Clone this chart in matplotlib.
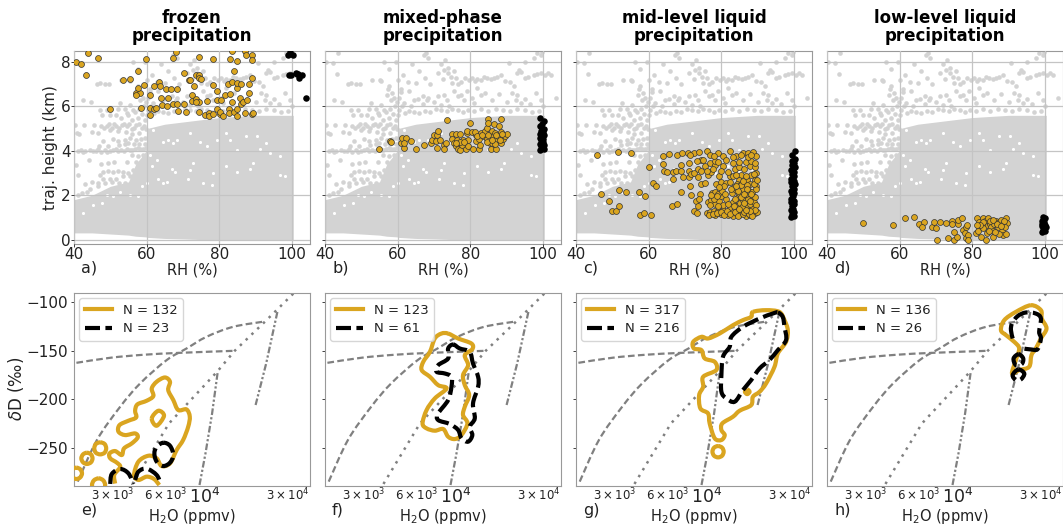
import numpy as np
import matplotlib
matplotlib.use("Agg")
import matplotlib.pyplot as plt
from matplotlib.path import Path
from matplotlib.patches import PathPatch
from matplotlib.lines import Line2D

titles = ["frozen\nprecipitation", "mixed-phase\nprecipitation", "mid-level liquid\nprecipitation", "low-level liquid\nprecipitation"]
top_letters = ["a)", "b)", "c)", "d)"]
bottom_letters = ["e)", "f)", "g)", "h)"]
gold_n = ["N = 132", "N = 123", "N = 317", "N = 136"]
black_n = ["N = 23", "N = 61", "N = 216", "N = 26"]

# grey background, envelope of the dense cloud
cloud_rh = [40, 45, 50, 55, 57, 59.9, 60, 65, 70, 75, 80, 85, 90, 95, 100.4]
cloud_top = [1.8, 2.0, 2.4, 2.6, 3.4, 4.0, 5.0, 5.2, 5.3, 5.4, 5.5, 5.55, 5.6, 5.6, 5.6]
cloud_bottom = [0.3, 0.3, 0.25, 0.2, 0.15, 0.12, 0.1, 0.05, 0.03, 0, 0, 0, 0, 0, 0]

# single grey dots outside the cloud
sparse_rh = [43.7, 40.3, 42.1, 43.2, 46.2, 47.2, 48.5, 49.6, 52.9, 55.1, 55.4, 57.7, 57.4, 57.2, 58.3, 57.7, 60, 62.8, 65, 60.9, 66.9, 68.3, 67.3, 67.8, 72.8, 73.8, 74.7, 72.4, 75.1, 76.5, 79.7, 82, 83.8, 85.7, 87.5, 90.7, 93, 93.5, 94, 97.6, 99.4, 101.3, 102.2, 103.6, 98.5, 99.4, 93, 92.6, 94, 81.1, 82.9, 71, 72.8, 76.5, 78.3, 74.2, 63.7, 65.5, 61.8, 60.5, 60,
             47.2, 47.6, 49, 50, 51.7, 52.2, 52.7, 54.5, 55.9, 56.8, 49, 50.4, 51.7, 53.1, 54.5, 55.9, 57.2, 58.6, 40.3, 42.8, 45.5, 40.7, 41.5, 44.9, 46.7, 50.8, 54,
             43, 44.5, 46, 47.5, 48.5, 50, 51.5, 53, 54.5, 56, 57.5, 59, 59.5, 58, 56.5, 55,
             40.5, 47.2, 48, 49.4, 50.8, 52.2, 53.6, 55, 56.3, 57.7, 48.1, 50, 51.7, 53.6, 55.4, 46.7, 43.5, 44.4, 42.1, 41.2,
             41, 41.8, 42.4, 45.2, 46.7, 49, 50.7, 52.2, 53.7, 55.3, 56.8, 58.2, 59.8, 52.5, 54, 49.5, 47, 57, 58.5, 59.5, 55.5, 52, 48, 59, 57.5, 56, 58.5, 57, 59.5, 58, 59.3, 54.5, 51, 47.5, 49.5, 44, 41, 43, 45, 46.5, 48.5, 50.5, 52.5, 54, 56, 57.5, 59,
             47.5, 48.3, 49.7, 51, 52.4, 53.8, 55.2, 56.6, 57.9, 59.3, 50, 52, 54.2, 56, 58, 59.7,
             53, 54, 55, 55.5, 56.3, 57.5, 58, 58.8, 59.3, 59.6, 58.5, 59, 59.7, 60.5, 61.2, 62, 63, 64.5, 66, 67.5, 69, 70.5, 72, 73.5, 75, 76.5, 78, 79.5, 81, 83, 85, 87, 89, 91, 93, 95, 97, 99, 100, 61, 63, 64.5, 67, 68, 70, 72, 73.5, 75.5, 77.5, 79, 80.5, 82, 84, 86, 88, 90, 91.5, 95, 96.5, 98, 99.5,
             71, 72, 73, 74, 75.5, 76, 77.5, 78.5, 80.5, 81.2, 83, 84.7, 86.5, 88.5, 89.7, 91, 92, 95, 96, 98.5, 100.5, 69, 67.5, 66, 61.5, 59.5, 64, 68.5, 95, 97.5, 99.8, 56.3, 44.8, 42.5]
sparse_h = [8.4, 8, 7.95, 7.45, 7, 7.05, 7, 7, 7.2, 7.2, 7.15, 7.7, 6.8, 6.5, 6.3, 6.9, 7.2, 7.1, 7.05, 6.65, 6.45, 6.4, 8.3, 8.4, 7.65, 7.5, 7.35, 7.25, 7.05, 7, 7.2, 7.25, 7.35, 7.25, 7.35, 7.95, 7.5, 7.65, 7.55, 7.4, 7.5, 7.5, 7.4, 6.4, 8.4, 8.3, 6.5, 6.3, 6.15, 6.15, 6.5, 6.45, 6.5, 6.45, 6.3, 6, 6, 6.35, 6.15, 5.85, 5.6,
            5.85, 5.6, 5.85, 5.6, 5.6, 5.9, 6.15, 5.7, 5.4, 5.75, 5.1, 5.05, 5.1, 5.15, 5.1, 5, 5.15, 5.05, 5.15, 5.15, 5.15, 4.8, 4.75, 4.85, 4.8, 4.55, 4.5,
            4, 4.05, 4, 3.95, 4.05, 4, 4.1, 4.05, 4.1, 4.05, 4.15, 4.1, 4.3, 4.3, 4.3, 4.35,
            3.35, 2.9, 3.05, 3.1, 3.05, 3.1, 3.05, 3, 3.15, 3.05, 2.75, 2.75, 2.75, 2.85, 2.85, 2.4, 2.15, 2.3, 2.1, 2,
            4, 4.05, 3.95, 4, 4.1, 3.95, 4.05, 4, 4, 4.05, 4.1, 4.1, 4.15, 4.25, 4.3, 4.2, 4.2, 4.5, 4.55, 4.6, 4.6, 4.45, 4.45, 3.8, 3.75, 3.8, 3.5, 3.5, 3.3, 3.2, 2.95, 3.5, 3.5, 3.4, 3.45, 3.6, 2.9, 2.5, 2.6, 2.55, 2.55, 2.6, 2.55, 2.55, 2.6, 2.6, 2.65,
            5.1, 5.05, 5.2, 5.2, 5.05, 5.2, 5.2, 5.05, 5.2, 5.1, 4.95, 4.9, 4.85, 4.75, 4.8, 5,
            5.5, 5.9, 5.6, 6.05, 5.85, 5.5, 5.9, 5.65, 6, 5.4, 6.6, 6.4, 6.2, 6.4, 6, 5.7, 5.8, 5.75, 5.7, 5.8, 5.75, 5.9, 5.85, 5.8, 5.9, 5.85, 5.75, 5.85, 5.8, 5.9, 5.8, 5.9, 5.85, 5.8, 5.9, 5.85, 5.75, 5.8, 6, 6.8, 6.7, 6.3, 6.1, 6.3, 6.2, 6.05, 6.3, 6.7, 6.5, 6.7, 6.4, 6.85, 6.6, 6.3, 6.55, 6.2, 6.6, 6.35, 6.1, 6.6, 6.3,
            7.5, 7.9, 8.1, 7.75, 7.6, 7.3, 7.1, 7.3, 7.3, 7.15, 7.2, 7.3, 7.3, 7.4, 7.15, 7.1, 6.9, 7.3, 7.35, 7.45, 7.4, 7, 7.3, 7.6, 7.4, 8, 7.9, 8.2, 8, 8.2, 8.45, 8, 6.2, 6.3]

# white gaps inside the cloud
gap_rh = [68.3, 67.3, 66, 64.6, 60.9, 62.8, 61.4, 63.2, 64.6, 65.5, 66.9, 67.8, 71.9, 72.8, 71.5, 75.6, 77.9, 78.3, 82, 84.8, 88.4, 89.4, 96.7, 93, 91.2, 93.9, 96.7, 98.1, 82.9, 79.3, 74.7, 76.5, 84.8, 87.5, 90.3, 82, 71.9, 61.8, 49, 50.8, 52.7, 55.4, 57.7, 58.6, 60, 42.6, 45.3, 47.6]
gap_h = [4.5, 4.35, 4.5, 4.4, 3.8, 3.6, 3.3, 2.75, 2.55, 2.6, 3.2, 3.05, 3.15, 3.45, 2.75, 2.55, 2.45, 3, 3.3, 3.05, 3.2, 3.45, 3.75, 4.35, 4.1, 3.9, 2.9, 2.85, 4.5, 4.5, 4.4, 4.2, 4.05, 4.65, 4.65, 4.8, 4.8, 4.95, 2.0, 1.95, 2.15, 2, 1.95, 2.4, 2.55, 1.2, 1.55, 1.65]

a_rh = [40.6, 42, 43.9, 43.3, 46.6, 50, 53.5, 55.4, 57.6, 59.8, 59.4, 57, 58.2, 57, 57.6, 58.5, 61, 60.8, 61, 61.9, 62.7, 62.1, 63.5, 63.7, 64, 64.1, 65.5, 65.3, 66, 66.7, 67.2, 68, 67.2, 68.3, 68.5, 68.6, 70.3, 70.3, 70.9, 71.7, 72, 73, 72.6, 72.6, 73.6, 73.6, 74.4, 74.4, 75, 74.4, 74.4, 74.3, 73.6, 76.2, 76.7, 77.2, 77.2, 78.3, 78.2, 78.3, 79.5, 79.5, 79.5, 80.1, 80.6, 80.2, 81.1, 81.5, 82.5, 83.4, 82.9, 82.9, 82.8, 82.8, 83.4, 83.4, 84.1, 84.1, 84.9, 85, 85, 86.1, 85.8, 85, 85, 85.9, 86.6, 87, 87.6, 87.2, 87.5, 88.2, 88.2, 88.9, 88.9, 88.9, 88.9, 89.4]
a_h = [8, 7.9, 8.4, 7.4, 8.2, 5.9, 7.2, 7.25, 7.6, 8.15, 6.95, 6.6, 6.6, 6.5, 6.85, 5.95, 6.5, 5.6, 5.95, 5.9, 5.95, 6.9, 7.1, 6.9, 6.4, 6.05, 6, 6.8, 6.4, 6.8, 8.2, 8.45, 6.1, 6.8, 6.1, 5.8, 7.5, 6.1, 5.75, 7.2, 7.2, 6.9, 6.5, 6.25, 6.35, 7.4, 7.4, 7.3, 7.25, 6.2, 5.75, 8.25, 6.2, 5.6, 6.25, 5.7, 5.55, 5.65, 8.15, 6.95, 5.9, 6.7, 6.3, 5.65, 6.3, 5.75, 5.55, 6.5, 7, 7.1, 8.15, 6.55, 5.9, 5.7, 6.2, 8.5, 7.6, 5.75, 8.05, 6.85, 7.05, 7, 6.4, 5.9, 5.55, 6.1, 6.2, 5.7, 6.3, 8.5, 8.3, 7, 6.6, 8.3, 8.1, 7.3, 5.65, 5.7]
a_black_rh = [99, 100.2, 99.5, 99.1, 99.7, 101.1, 101.7, 102.7, 102, 101.3, 103.9]
a_black_h = [8.3, 8.3, 8.45, 7.4, 7.4, 7.5, 7.45, 7.4, 7.3, 7.45, 6.4]

b_rh = [55, 57.8, 58.3, 60.9, 61.2, 62.3, 61.8, 61.8, 63.8, 65.2, 67.4, 69.2, 69.4, 69.9, 70.9, 71.1, 70.7, 71.6, 70.9, 72.7, 73.2, 72.9, 73.5, 74.9, 75.1, 75.6, 76.2, 76.2, 76.7, 77.2, 77.6, 77.3, 78.1, 78.8, 79.5, 79, 79.5, 80, 79, 80.4, 80.8, 81.5, 81.7, 82.5, 82.8, 82.9, 82.5, 83.6, 84, 84.5, 84.8, 84.8, 84.5, 85.4, 85.6, 85.9, 86.3, 86.5, 86.9, 86.9, 87.2, 87.6, 87.8, 88.4, 88.4, 88.6, 89, 89.5, 90, 84.9, 86.1, 86.8, 88.2, 76.4, 77.2, 78.3, 81.4, 82, 76.2, 84.5, 87.2, 88.7, 85.9, 83.3]
b_h = [4.1, 4.45, 4.4, 4.35, 4.6, 4.6, 4.15, 4.35, 4.45, 4.1, 4.25, 4.35, 4.5, 4.7, 4.7, 4.9, 4.45, 4.5, 4.15, 4.25, 4.35, 4.1, 5.4, 4.75, 4.55, 4.35, 4.75, 4.2, 4.1, 4.05, 4.25, 4.75, 4.5, 4.1, 4.2, 4.8, 4.5, 5.25, 4.9, 4.85, 4.1, 4.7, 4.45, 4.1, 4.25, 4.8, 4.55, 4.65, 4.9, 5.05, 5.45, 5.25, 4.55, 4.35, 4.1, 4.9, 4.65, 5.2, 4.8, 4.5, 4.1, 4.65, 5.1, 5.45, 4.85, 4.35, 4.55, 4.65, 4.75, 4.7, 4.35, 4.3, 4.5, 4.5, 4.4, 4.4, 4.85, 4.65, 4.35, 4.4, 4.7, 4.75, 4.5, 4.7]
b_black_rh = [99.2, 100.2, 99.4, 100.4, 99.3, 100, 99.5, 100.1, 99.2, 100.3, 99.1, 100, 99.6, 100.4, 99.2, 99.9, 100.3, 99.3]
b_black_h = [4.05, 4.1, 4.2, 4.25, 4.3, 4.4, 4.5, 4.55, 4.6, 4.7, 4.75, 4.85, 4.9, 5, 5.1, 5.2, 5.35, 5.5]

c_rh = [45.7, 51.7, 55.1, 60.1, 64, 65.7, 67.9, 69.1, 70.8, 72.6, 73.9, 76.1, 76.8, 79.1, 80.6, 82.4, 84.1, 86, 87.3, 88.7, 89.6,
        64, 64.2, 65.1, 66.6, 66.7, 67.6, 69, 69, 69.4, 71.1, 71.1, 71.1, 71.3, 71.8, 72.4, 73.6, 73.6, 74.5, 74.5, 74.5, 75.4, 75.4, 76.3, 76.8, 77.2, 78.3, 78.6, 78.3, 79.5, 79.9, 80.6, 81.4, 82.3, 83.2, 83.2, 83.7, 85, 85.5, 86.4, 87.8, 89.2, 89.6, 88.3, 89.2, 87, 84.8, 84.3, 85.5, 87.8, 89.6,
        47, 49.1, 50, 51.1, 51.8, 51.9, 53.9, 57.4, 58.9, 61.2, 61.9, 57.5, 58.6, 60.7, 66.4, 67.8, 69, 71.8, 72.6, 73.4, 73.1, 73.5, 74.2, 73.9,
        76, 77, 77.9, 79.1, 80, 81.1, 82, 83.2, 84.2, 85.4, 86.7, 88, 89.2, 89.8, 78.4, 80.4, 82.7, 84.9, 87.2, 88.6,
        76.3, 77.3, 78.2, 79.5, 80.5, 81.3, 83.3, 84, 85.2, 86, 86.9, 88, 89, 89.7, 77, 80, 82.4, 84.6, 87.4, 88.7,
        77.4, 78.3, 79.2, 80.3, 83, 84, 85, 86, 86.8, 87.7, 88.6, 89.5, 85.5, 83.6, 87,
        76.7, 77.6, 78.8, 79.8, 80.9, 81.7, 82.5, 83.7, 84.5, 85.9, 86.3, 87.6, 88.4, 89.4, 85.6, 83.5, 81.9, 79, 78, 77.2, 78.9, 81, 83.8, 85.5, 86.4, 87.8, 89.4, 88.2, 86.2, 84.7, 82.8, 80.8, 79.4, 87.2, 88.9, 86, 84, 82, 80, 79, 77.8, 76, 75, 85, 86.9, 88.3, 89.3, 87.3, 83.3, 81.2, 71.5, 73.2, 78, 85.4, 88.1, 82.5, 84, 86.7, 88.9, 89.8, 87.8, 85, 86.9]
c_h = [3.8, 3.95, 3.9, 3.25, 3.75, 3.85, 3.8, 3.9, 3.9, 3.9, 3.95, 4, 3.8, 3.9, 3.75, 4, 3.75, 3.9, 3.9, 3.95, 3.75,
       3.4, 3.1, 3.05, 2.75, 3.05, 3.1, 3.35, 3.1, 2.8, 3.45, 3.1, 2.8, 2.4, 2.95, 3, 2.8, 3.2, 3.6, 3.1, 2.5, 3.3, 2.55, 2.9, 3.45, 3.05, 3.35, 2.5, 3.55, 2.85, 2.6, 3.3, 2.55, 2.85, 3.45, 2.85, 3.2, 3.25, 2.9, 3.2, 3.3, 3.25, 3, 2.9, 2.7, 2.7, 2.7, 2.5, 2.5, 2.5, 2.4,
       2.05, 1.75, 1.3, 1.3, 1.5, 2.25, 2.15, 2.15, 1.95, 2.55, 2.4, 1.1, 1.2, 1.1, 1.5, 1.6, 2.15, 2, 1.3, 1.2, 1.75, 1.5, 2.05, 1.85,
       1.2, 1.25, 1.3, 1.3, 1.15, 1.2, 1.1, 1.05, 1.2, 1.3, 1.05, 1.1, 1.2, 1.25, 1.1, 1.35, 1.25, 1.1, 1.25, 1.4,
       1.7, 1.8, 1.6, 1.75, 1.55, 1.85, 1.7, 1.5, 1.65, 1.8, 1.5, 1.6, 1.7, 1.55, 1.55, 1.95, 1.45, 1.9, 1.85, 1.95,
       2.1, 2.15, 2.05, 2.2, 2.1, 2.25, 2.1, 2.3, 2.05, 2.2, 2.15, 2.3, 2.45, 2.35, 2.45,
       1.1, 1.15, 1.2, 1.25, 1.1, 1.3, 1.15, 1.25, 1.05, 1.15, 1.25, 1.15, 1.05, 1.35, 1.45, 1.5, 1.6, 1.5, 1.85, 2, 1.95, 2.05, 1.85, 1.9, 1.65, 1.75, 1.9, 2.05, 2.05, 2.2, 2.3, 2.4, 2.35, 2.3, 2.5, 2.65, 2.9, 3.05, 3.1, 3.5, 3.2, 3.1, 3.6, 3.5, 3.5, 3.55, 3.45, 3.7, 3.7, 3.6, 3.8, 3.55, 3.75, 3.8, 3.8, 2.6, 2.4, 2.85, 2.95, 2.7, 1.3, 1.4, 1.35]
c_black_rh = [99.3, 100, 99.4, 100.1, 99.2, 99.9, 99.4, 100, 99.3, 100.1, 99.2, 99.9, 99.4, 100.1, 99.2, 100, 99.4, 100.2, 99.3, 100, 99.2, 100.1, 99.4, 100, 99.3, 100.2, 99.4, 100, 99.5, 100.3, 99.5, 100.2]
c_black_h = [1.0, 1.05, 1.15, 1.25, 1.35, 1.4, 1.5, 1.6, 1.7, 1.75, 1.85, 1.95, 2.05, 2.1, 2.2, 2.3, 2.4, 2.5, 2.6, 2.65, 2.75, 2.85, 2.95, 3.05, 3.15, 3.25, 3.35, 3.45, 3.55, 3.65, 3.8, 4.0]

d_rh = [50, 58.2, 61.5, 63.9, 65.4, 66.6, 66.3, 68.8, 69.4, 69.9, 71, 72.7, 70.4, 73.3, 75, 75.8, 74.9, 74.5, 74.5, 76, 76, 77.2, 77.4, 78.2, 78.5, 78.1, 78.2, 78.8, 78.8, 81.1, 81.4, 82, 81.8, 81.6, 82.5, 82.9, 83.7, 83.6, 83.6, 82.7, 84.3, 84.8, 84, 85.2, 85.7, 85.7, 86.1, 86.6, 87.1, 87.5, 88, 88.4, 88.2, 88.6, 89.2, 89.4, 89.6, 88.9, 87.5, 86.4, 83.1, 84.6, 84.8, 83, 85.6, 86.9, 88.7, 82.2, 87.9, 81.3]
d_h = [0.75, 0.65, 0.95, 1, 0.7, 0.8, 0.55, 0.55, 0.8, 0.5, 0.8, 0.75, 0, 0.05, 0, 0.1, 0.35, 0.85, 0.7, 0.7, 0.9, 0.95, 0.45, 0.55, 0.65, 0.3, 0.05, 0.2, 0, 0.3, 0.95, 0.8, 0.55, 0.4, 0.1, 0.95, 0, 0.85, 0.6, 0.7, 0.95, 0.7, 0.3, 0.55, 0.4, 0.1, 0.7, 0.85, 0.55, 0.8, 0.9, 0.7, 0.4, 0.2, 0.95, 0.25, 0.75, 0.55, 0.25, 0.35, 0.5, 0.4, 0.85, 0.8, 0.9, 0.7, 0.85, 0.65, 0.6, 0.65]
d_black_rh = [99.2, 100.1, 99.4, 100.3, 99.2, 100, 99.3, 99.9, 99.2, 100, 99.4]
d_black_h = [0.35, 0.4, 0.45, 0.55, 0.6, 0.65, 0.7, 0.8, 0.85, 0.95, 1.0]

# theoretical curves in the lower panels
mix1_q = [1858, 2897, 4483, 7240, 14870]
mix1_d = [-162.5, -157.3, -154.2, -152.2, -150.1]
mix2_q = [1890, 2433, 3302, 4290, 6081, 7900, 10260, 14550, 22000]
mix2_d = [-285, -242.1, -207.8, -183.8, -159.7, -147.7, -135.7, -125.4, -119.9]
rayleigh_q = [3880, 6270, 11800, 14870, 22000, 32170]
rayleigh_d = [-287.4, -225, -171.7, -150.1, -120.5, -91]
rain1_q = [9365, 10130, 11050, 11900]
rain1_d = [-288.5, -255.9, -214.7, -171.7]
rain2_q = [19570, 22500, 26200]
rain2_d = [-206, -163, -108]

# contours, log10(H2O) and dD
e_gold_lq = [3.490, 3.485, 3.519, 3.500, 3.462, 3.458, 3.490, 3.528, 3.541, 3.585, 3.619, 3.604, 3.547, 3.509, 3.515, 3.566, 3.610, 3.604, 3.617, 3.670, 3.708, 3.699, 3.727, 3.774, 3.803, 3.793, 3.822, 3.850, 3.897, 3.916, 3.907, 3.878, 3.841, 3.803, 3.755, 3.727, 3.680, 3.623, 3.598, 3.623, 3.670, 3.712, 3.742]
e_gold_d = [-287, -278, -270, -265.5, -261, -256, -253.5, -257.6, -250.7, -245.6, -239.4, -235.3, -237, -233.5, -226.7, -222.2, -218.8, -212, -205.4, -201.6, -196.8, -188.9, -182, -177.6, -182, -190.6, -200.9, -211.2, -210.5, -218, -228.4, -242.1, -252.4, -266.2, -268.9, -261, -258.3, -264.4, -278.2, -283.3, -279.9, -282.3, -288.5]
e_hole_lq = [3.699, 3.737, 3.769, 3.727, 3.699]
e_hole_d = [-219.8, -211.9, -217.1, -227.4, -219.8]
e_ringa_lq = [3.405, 3.430, 3.439, 3.430, 3.405, 3.380, 3.371, 3.380, 3.405]
e_ringa_d = [-244.5, -246.2, -250.7, -255.2, -256.9, -255.2, -250.7, -246.2, -244.5]
e_ringb_lq = [3.329, 3.352, 3.361, 3.352, 3.329, 3.307, 3.297, 3.307, 3.329]
e_ringb_d = [-255.2, -256.9, -261, -265.1, -266.8, -265.1, -261, -256.9, -255.2]
e_ringc_lq = [3.269, 3.291, 3.301, 3.291, 3.269, 3.246, 3.236, 3.246, 3.269]
e_ringc_d = [-270.6, -272.3, -276.5, -280.6, -282.3, -280.6, -276.5, -272.3, -270.6]
e_ringd_lq = [3.396, 3.422, 3.433, 3.422, 3.396, 3.369, 3.358, 3.369, 3.396]
e_ringd_d = [-281.6, -283.7, -288.5, -293.3, -295.3, -293.3, -288.5, -283.7, -281.6]
e_black1_lq = [3.462, 3.471, 3.519, 3.566, 3.594]
e_black1_d = [-287.4, -277.1, -272, -276.5, -287.4]
e_black2_lq = [3.604, 3.623, 3.670, 3.727, 3.750]
e_black2_d = [-283.3, -274.7, -271.6, -278.2, -287.4]
e_black3_lq = [3.765, 3.803, 3.822, 3.803, 3.765, 3.727, 3.714, 3.727, 3.765]
e_black3_d = [-244.9, -248, -257.6, -265.5, -268.9, -264.4, -255.9, -249, -244.9]

f_gold_lq = [3.958, 4.015, 4.091, 4.096, 4.053, 4.072, 4.043, 4.053, 4.078, 4.053, 4.043, 4.068, 4.034, 3.996, 3.958, 3.930, 3.882, 3.835, 3.812, 3.835, 3.882, 3.949, 3.901, 3.854, 3.807, 3.816, 3.854, 3.882, 3.920, 3.958]
f_gold_d = [-132.3, -137.4, -142.6, -148.4, -154.6, -164.9, -175.2, -185.5, -195.8, -207.8, -216.4, -225, -237, -241.1, -238.7, -230.8, -232.5, -230.1, -225, -211.2, -199.2, -188.9, -185.5, -176.9, -170, -161.5, -151.2, -137.4, -132.3, -132.3]
f_black_lq = [3.987, 4.024, 4.081, 4.100, 4.129, 4.129, 4.100, 4.110, 4.081, 4.096, 4.072, 4.034, 4.015, 3.968, 3.901, 3.901, 3.958, 3.977, 3.977, 3.939, 3.892, 3.901, 3.958, 3.958, 3.987]
f_black_d = [-143.6, -147.7, -151.2, -163.2, -176.9, -187.2, -204.4, -219.8, -228.4, -237, -243.8, -240.4, -231.8, -225.6, -221.5, -214.7, -200.9, -187.2, -176.9, -173.5, -171.7, -164.9, -158, -147.7, -143.6]

g_gold_lq = [4.265, 4.340, 4.416, 4.445, 4.464, 4.454, 4.407, 4.388, 4.340, 4.303, 4.265, 4.255, 4.189, 4.151, 4.090, 4.085, 4.104, 4.085, 4.047, 4.018, 4.009, 3.965, 3.958, 3.981, 3.981, 4.056, 4.047, 3.990, 3.971, 3.928, 3.924, 3.971, 4.009, 4.075, 4.151, 4.208, 4.255, 4.265]
g_gold_d = [-110, -108.2, -110, -118.5, -128.8, -140.9, -152.9, -166.6, -183.8, -192.3, -197.5, -206.1, -211.9, -218.1, -225, -231.8, -237, -242.1, -240.4, -225, -214.7, -209.5, -195.8, -187.2, -176.9, -170, -161.5, -158, -149.4, -147.7, -140.9, -135.7, -137.4, -132.3, -123.7, -118.5, -115.1, -110]
g_ring_lq = [4.066, 4.089, 4.098, 4.089, 4.066, 4.043, 4.034, 4.043, 4.066]
g_ring_d = [-248.3, -250, -254.1, -258.3, -260, -258.3, -254.1, -250, -248.3]
g_dot_lq = [4.232, 4.246, 4.232, 4.219, 4.232]
g_dot_d = [-190, -192.3, -194.8, -192.3, -190]
g_black_lq = [4.407, 4.435, 4.445, 4.454, 4.407, 4.359, 4.303, 4.255, 4.208, 4.161, 4.113, 4.085, 4.085, 4.094, 4.132, 4.142, 4.208, 4.303, 4.378, 4.407]
g_black_d = [-110.6, -115.1, -125.4, -139.1, -149.4, -159.7, -168.3, -180.3, -190.6, -202.6, -199.2, -192.3, -175.2, -156.3, -146, -135.7, -125.4, -116.8, -111.7, -110.6]

h_gold_lq = [4.419, 4.476, 4.481, 4.508, 4.476, 4.447, 4.422, 4.409, 4.352, 4.311, 4.333, 4.352, 4.324, 4.277, 4.248, 4.267, 4.333, 4.419]
h_gold_d = [-103.1, -108.2, -116.8, -127.1, -137.4, -147.7, -154.6, -166.6, -170, -173.5, -159.7, -147.7, -140.9, -134, -128.8, -118.5, -110, -103.1]
h_black1_lq = [4.315, 4.305, 4.311, 4.343, 4.390, 4.447, 4.476, 4.466, 4.476, 4.457, 4.419, 4.375]
h_black1_d = [-137.4, -128.8, -122, -114.4, -110.6, -111.7, -116.8, -130.6, -137.4, -148.4, -148.7, -147.7]
h_black2_lq = [4.349, 4.320, 4.333, 4.366, 4.375, 4.349]
h_black2_d = [-153.6, -158, -164.9, -163.9, -158, -153.6]
h_black3_lq = [4.347, 4.381, 4.362, 4.333, 4.315, 4.347]
h_black3_d = [-169.3, -173.5, -179.6, -180.3, -175.2, -169.3]

gold_rh = [a_rh, b_rh, c_rh, d_rh]
gold_h = [a_h, b_h, c_h, d_h]
black_rh = [a_black_rh, b_black_rh, c_black_rh, d_black_rh]
black_h = [a_black_h, b_black_h, c_black_h, d_black_h]
gold_lines = [
    [(e_gold_lq, e_gold_d), (e_hole_lq, e_hole_d), (e_ringa_lq, e_ringa_d), (e_ringb_lq, e_ringb_d), (e_ringc_lq, e_ringc_d), (e_ringd_lq, e_ringd_d)],
    [(f_gold_lq, f_gold_d)],
    [(g_gold_lq, g_gold_d), (g_ring_lq, g_ring_d), (g_dot_lq, g_dot_d)],
    [(h_gold_lq, h_gold_d)],
]
black_lines = [
    [(e_black1_lq, e_black1_d), (e_black2_lq, e_black2_d), (e_black3_lq, e_black3_d)],
    [(f_black_lq, f_black_d)],
    [(g_black_lq, g_black_d)],
    [(h_black1_lq, h_black1_d), (h_black2_lq, h_black2_d), (h_black3_lq, h_black3_d)],
]

W, H = 1063, 526
lefts = [74, 325, 576, 827]
ax_w = 236
gold = "goldenrod"
txt = "#222222"
spine = "#999999"
dash = (0, (3.6, 1.3))
short_dash = (0, (3, 1.5))


def draw_curve(ax, lq, dd, **kw):
    # bezier through the read points, so the line is round like a contour
    p = np.column_stack([lq, dd])
    closed = np.allclose(p[0], p[-1])
    if closed:
        prev_p = np.vstack([p[-2], p[:-1]])
        next_p = np.vstack([p[1:], p[1]])
    else:
        prev_p = np.vstack([p[0], p[:-1]])
        next_p = np.vstack([p[1:], p[-1]])
    m = (next_p - prev_p) / 6
    verts = [p[0]]
    codes = [Path.MOVETO]
    for k in range(len(p) - 1):
        verts += [p[k] + m[k], p[k + 1] - m[k + 1], p[k + 1]]
        codes += [Path.CURVE4] * 3
    verts = np.array(verts)
    verts[:, 0] = 10 ** verts[:, 0]
    ax.add_patch(PathPatch(Path(verts, codes), fill=False, **kw))


fig = plt.figure(figsize=(W / 100, H / 100), dpi=100)

for i in range(4):
    # upper row
    ax = fig.add_axes([lefts[i] / W, 1 - 244 / H, ax_w / W, 193 / H])
    ax.fill_between(cloud_rh, cloud_bottom, cloud_top, color="lightgray", lw=0, zorder=1)
    ax.scatter(sparse_rh, sparse_h, s=11, color="lightgray", lw=0, zorder=1)
    ax.scatter(gap_rh, gap_h, s=5, color="white", lw=0, zorder=1.2)
    ax.grid(True, color="#c4c4c4", lw=0.9, zorder=1.5)
    ax.set_axisbelow(False)
    ax.scatter(gold_rh[i], gold_h[i], s=18, color=gold, edgecolor="#333333", lw=0.5, zorder=3)
    ax.scatter(black_rh[i], black_h[i], s=22, color="black", lw=0, zorder=3)
    ax.set_xlim(40, 105)
    ax.set_ylim(-0.2, 8.5)
    ax.set_xticks([40, 60, 80, 100])
    ax.set_yticks([0, 2, 4, 6, 8])
    ax.tick_params(labelsize=11, colors=txt, length=2, width=0.6, pad=0.5)
    if i > 0:
        ax.set_yticklabels([])
    else:
        ax.set_ylabel("traj. height (km)", fontsize=11, color=txt)
        ax.yaxis.set_label_coords(-0.068, 0.5)
    ax.set_xlabel("RH (%)", fontsize=10.5, color=txt)
    ax.xaxis.set_label_coords(0.5, -0.098)
    ax.set_title(titles[i], fontsize=12, fontweight="bold", pad=7, linespacing=1.0)
    ax.text(0.03, -0.125, top_letters[i], transform=ax.transAxes, fontsize=11.5, color=txt, va="center")
    for s in ax.spines.values():
        s.set_color(spine)

    # lower row
    ax = fig.add_axes([lefts[i] / W, 1 - 485.5 / H, ax_w / W, 192.5 / H])
    ax.set_xscale("log")
    ax.set_xlim(1800, 40000)
    ax.set_ylim(-289, -90.5)
    draw_curve(ax, np.log10(mix1_q), mix1_d, edgecolor="gray", lw=1.6, ls=short_dash, zorder=2)
    draw_curve(ax, np.log10(mix2_q), mix2_d, edgecolor="gray", lw=1.6, ls=short_dash, zorder=2)
    ax.plot(rayleigh_q, rayleigh_d, color="gray", lw=1.8, ls=(0, (1, 2.2)), zorder=2)
    ax.plot(rain1_q, rain1_d, color="gray", lw=1.6, ls=(0, (3, 1, 1, 1, 1, 1)), zorder=2)
    ax.plot(rain2_q, rain2_d, color="gray", lw=1.6, ls=(0, (3, 1, 1, 1, 1, 1)), zorder=2)
    for lq, dd in gold_lines[i]:
        draw_curve(ax, lq, dd, edgecolor=gold, lw=3, joinstyle="round", zorder=3)
    for lq, dd in black_lines[i]:
        draw_curve(ax, lq, dd, edgecolor="black", lw=3, ls=dash, zorder=4)
    ax.set_xticks([10000])
    ax.set_xticklabels(["$10^{4}$"], fontsize=12.5)
    ax.set_xticks([3000, 6000, 30000], minor=True)
    ax.set_xticklabels(["$3\\times10^{3}$", "$6\\times10^{3}$", "$3\\times10^{4}$"], minor=True, fontsize=8.5)
    ax.set_yticks([-100, -150, -200, -250])
    ax.tick_params(axis="both", which="both", colors=txt, length=2, width=0.6, pad=2)
    ax.tick_params(axis="x", which="both", length=0, pad=1)
    ax.tick_params(axis="y", labelsize=11)
    if i > 0:
        ax.set_yticklabels([])
    else:
        ax.set_ylabel("$\\delta$D (‰)", fontsize=12, color=txt)
        ax.yaxis.set_label_coords(-0.203, 0.5)
    ax.set_xlabel("H$_2$O (ppmv)", fontsize=10.5, color=txt)
    ax.xaxis.set_label_coords(0.5, -0.112)
    ax.text(0.03, -0.128, bottom_letters[i], transform=ax.transAxes, fontsize=11.5, color=txt, va="center")
    handles = [Line2D([], [], color=gold, lw=3), Line2D([], [], color="black", lw=3, ls=dash)]
    ax.legend(handles, [gold_n[i], black_n[i]], loc="upper left", fontsize=9.5, handlelength=2.1,
              labelspacing=0.45, borderaxespad=0.4, labelcolor=txt)
    for s in ax.spines.values():
        s.set_color(spine)

fig.savefig("out.png", dpi=100)
